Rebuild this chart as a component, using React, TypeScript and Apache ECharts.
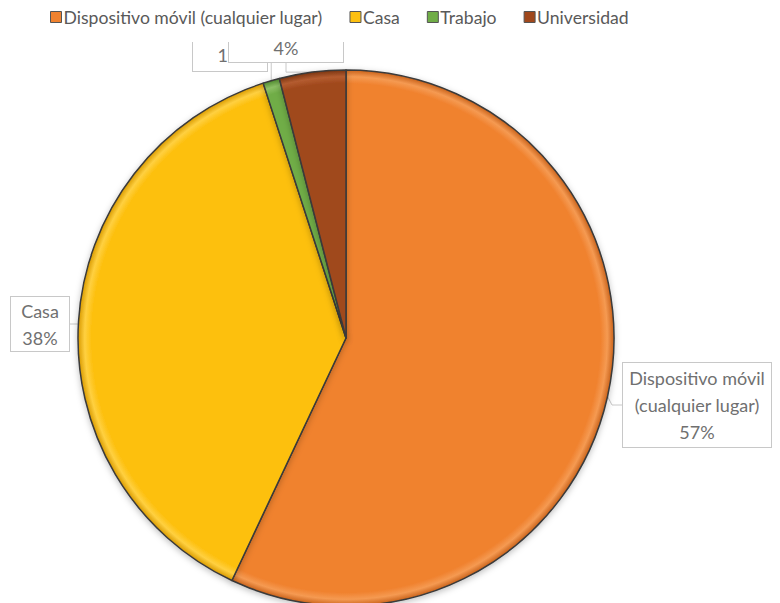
import React, { useEffect, useRef } from "react";
import * as echarts from "echarts";

const categories = ["Dispositivo móvil (cualquier lugar)", "Casa", "Trabajo", "Universidad"];
const labelNames = ["Dispositivo móvil\n(cualquier lugar)", "Casa", "", ""];
const values = [57, 38, 1, 4];
const baseColors = ["#F0822F", "#FDC010", "#70AD47", "#A0481C"];
const edgeColors = ["#C9621A", "#D99A00", "#4E8A2C", "#7A3410"];
const lightColors = ["#F59A52", "#FFD040", "#8CBF66", "#B45C30"];

const CX = 338;
const CY = 330;
const R = 268;

// label boxes (center x, center y, width, height)
const labelBoxes = [
  [689, 397, 150, 86],
  [32, 316, 60, 56],
  [222, 47, 76, 34],
  [278, 40, 116, 30],
];

export default function App() {
  const ref = useRef<HTMLDivElement>(null);
  useEffect(() => {
    if (!ref.current) return;
    const chart = echarts.init(ref.current, undefined, { renderer: "svg" });
    const font = "Lato, 'Open Sans', sans-serif";
    const data = categories.map((name, i) => ({
      name,
      value: values[i],
      itemStyle: {
        color: {
          type: "radial",
          x: CX,
          y: CY,
          r: R,
          global: true,
          colorStops: [
            { offset: 0, color: baseColors[i] },
            { offset: 0.95, color: baseColors[i] },
            { offset: 0.975, color: lightColors[i] },
            { offset: 1, color: edgeColors[i] },
          ],
        },
      },
      label: {
        width: labelBoxes[i][2] - 2,
        height: labelBoxes[i][3] - 2,
      },
    }));
    chart.setOption({
      animation: false,
      graphic: [
        {
          type: "rect",
          z: 50,
          silent: true,
          shape: { x: 150, y: -10, width: 260, height: 44 },
          style: { fill: "#ffffff" },
        },
      ],
      legend: {
        top: 0,
        left: 42,
        padding: 0,
        z: 100,
        itemWidth: 11,
        itemHeight: 11,
        itemGap: 27,
        icon: "rect",
        itemStyle: { borderColor: "#555555", borderWidth: 1 },
        textStyle: { fontFamily: font, fontSize: 17.6, color: "#595959", padding: [0, 0, 0, -3] },
        data: categories.map((name, i) => ({
          name,
          itemStyle: { color: baseColors[i] },
        })),
      },
      series: [
        {
          type: "pie",
          center: [CX, CY],
          radius: R,
          startAngle: 90,
          clockwise: true,
          avoidLabelOverlap: false,
          itemStyle: {
            borderColor: "#3A3A3A",
            borderWidth: 1.5,
            shadowBlur: 6,
            shadowColor: "rgba(0,0,0,0.25)",
            shadowOffsetY: 2,
          },
          label: {
            show: true,
            fontFamily: font,
            fontSize: 18,
            lineHeight: 27,
            color: "#707070",
            backgroundColor: "#ffffff",
            borderColor: "#C8C8C8",
            borderWidth: 1,
            align: "center",
            verticalAlign: "middle",
            formatter: (p: any) => {
              const nm = labelNames[p.dataIndex];
              return nm ? nm + "\n" + p.value + "%" : p.value + "%";
            },
          },
          labelLine: {
            show: true,
            length: 10,
            length2: 10,
            lineStyle: { color: "#C8C8C8", width: 1 },
          },
          labelLayout: (params: any) => {
            const b = labelBoxes[params.dataIndex];
            return {
              x: b[0],
              y: b[1],
              align: "center",
              verticalAlign: "middle",
            };
          },
          emphasis: { disabled: true },
          data,
        },
      ],
    });
    return () => chart.dispose();
  }, []);
  return <div ref={ref} style={{ width: 772, height: 595 }} />;
}
